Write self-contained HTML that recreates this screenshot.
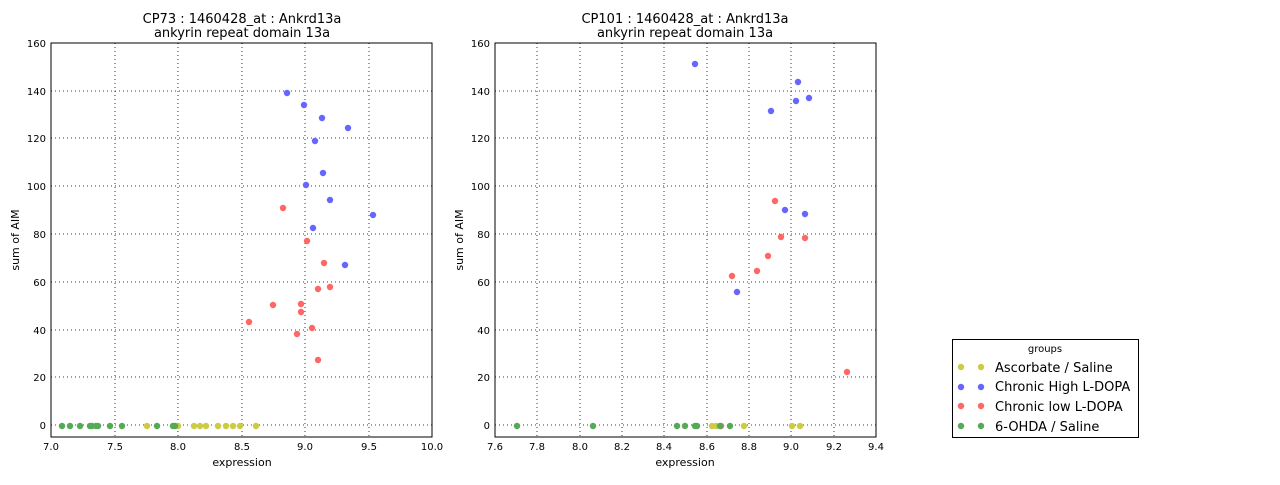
<!DOCTYPE html>
<html><head><style>
body{margin:0;background:#fff;}
svg text{font-family:"DejaVu Sans","Liberation Sans",sans-serif;fill:#000;}
</style></head><body>
<svg width="1280" height="480" xmlns="http://www.w3.org/2000/svg">
<rect width="1280" height="480" fill="#fff"/>
<!-- LEFT PLOT -->
<g font-size="10">
<g stroke="#000" stroke-dasharray="1,3" stroke-width="0.8">
<line x1="115" y1="43" x2="115" y2="437"/><line x1="178" y1="43" x2="178" y2="437"/><line x1="242" y1="43" x2="242" y2="437"/><line x1="305" y1="43" x2="305" y2="437"/><line x1="369" y1="43" x2="369" y2="437"/>
<line x1="51" y1="91" x2="432" y2="91"/><line x1="51" y1="138" x2="432" y2="138"/><line x1="51" y1="186" x2="432" y2="186"/><line x1="51" y1="234" x2="432" y2="234"/><line x1="51" y1="282" x2="432" y2="282"/><line x1="51" y1="330" x2="432" y2="330"/><line x1="51" y1="377" x2="432" y2="377"/><line x1="51" y1="425" x2="432" y2="425"/>
</g>
<g text-anchor="middle">
<text x="51" y="450">7.0</text><text x="115" y="450">7.5</text><text x="178" y="450">8.0</text><text x="242" y="450">8.5</text><text x="305" y="450">9.0</text><text x="369" y="450">9.5</text><text x="432" y="450">10.0</text>
<text x="242" y="466" font-size="11">expression</text>
<text x="242" y="23" font-size="13">CP73 : 1460428_at : Ankrd13a</text>
<text x="242" y="37" font-size="13">ankyrin repeat domain 13a</text>
</g>
<g text-anchor="end">
<text x="46" y="47">160</text><text x="46" y="95">140</text><text x="46" y="142">120</text><text x="46" y="190">100</text><text x="46" y="238">80</text><text x="46" y="286">60</text><text x="46" y="334">40</text><text x="46" y="381">20</text><text x="46" y="429">0</text>
</g>
<text transform="translate(19,240) rotate(-90)" text-anchor="middle" font-size="11">sum of AIM</text>
<g fill="#6666ff">
<circle cx="287" cy="93" r="3.2"/><circle cx="304" cy="105" r="3.2"/><circle cx="322" cy="118" r="3.2"/><circle cx="315" cy="141" r="3.2"/><circle cx="348" cy="128" r="3.2"/><circle cx="323" cy="173" r="3.2"/><circle cx="306" cy="185" r="3.2"/><circle cx="330" cy="200" r="3.2"/><circle cx="373" cy="215" r="3.2"/><circle cx="313" cy="228" r="3.2"/><circle cx="345" cy="265" r="3.2"/>
</g>
<g fill="#ff6666">
<circle cx="283" cy="208" r="3.2"/><circle cx="307" cy="241" r="3.2"/><circle cx="324" cy="263" r="3.2"/><circle cx="318" cy="289" r="3.2"/><circle cx="330" cy="287" r="3.2"/><circle cx="273" cy="305" r="3.2"/><circle cx="301" cy="304" r="3.2"/><circle cx="301" cy="312" r="3.2"/><circle cx="249" cy="322" r="3.2"/><circle cx="312" cy="328" r="3.2"/><circle cx="297" cy="334" r="3.2"/><circle cx="318" cy="360" r="3.2"/>
</g>
<g fill="#cccc44">
<circle cx="147" cy="426" r="3.2"/><circle cx="178" cy="426" r="3.2"/><circle cx="194" cy="426" r="3.2"/><circle cx="200" cy="426" r="3.2"/><circle cx="206" cy="426" r="3.2"/><circle cx="218" cy="426" r="3.2"/><circle cx="226" cy="426" r="3.2"/><circle cx="233" cy="426" r="3.2"/><circle cx="240" cy="426" r="3.2"/><circle cx="256" cy="426" r="3.2"/>
</g>
<g fill="#55aa55">
<circle cx="62" cy="426" r="3.2"/><circle cx="70" cy="426" r="3.2"/><circle cx="80" cy="426" r="3.2"/><circle cx="90" cy="426" r="3.2"/><circle cx="92" cy="426" r="3.2"/><circle cx="96" cy="426" r="3.2"/><circle cx="98" cy="426" r="3.2"/><circle cx="110" cy="426" r="3.2"/><circle cx="122" cy="426" r="3.2"/><circle cx="157" cy="426" r="3.2"/><circle cx="173" cy="426" r="3.2"/><circle cx="175" cy="426" r="3.2"/>
</g>
<rect x="51" y="43" width="381" height="394" fill="none" stroke="#000" stroke-width="1"/>
</g>
<!-- RIGHT PLOT -->
<g font-size="10">
<g stroke="#000" stroke-dasharray="1,3" stroke-width="0.8">
<line x1="537" y1="43" x2="537" y2="437"/><line x1="580" y1="43" x2="580" y2="437"/><line x1="622" y1="43" x2="622" y2="437"/><line x1="664" y1="43" x2="664" y2="437"/><line x1="707" y1="43" x2="707" y2="437"/><line x1="749" y1="43" x2="749" y2="437"/><line x1="791" y1="43" x2="791" y2="437"/><line x1="834" y1="43" x2="834" y2="437"/>
<line x1="495" y1="91" x2="876" y2="91"/><line x1="495" y1="138" x2="876" y2="138"/><line x1="495" y1="186" x2="876" y2="186"/><line x1="495" y1="234" x2="876" y2="234"/><line x1="495" y1="282" x2="876" y2="282"/><line x1="495" y1="330" x2="876" y2="330"/><line x1="495" y1="377" x2="876" y2="377"/><line x1="495" y1="425" x2="876" y2="425"/>
</g>
<g text-anchor="middle">
<text x="495" y="450">7.6</text><text x="537" y="450">7.8</text><text x="580" y="450">8.0</text><text x="622" y="450">8.2</text><text x="664" y="450">8.4</text><text x="707" y="450">8.6</text><text x="749" y="450">8.8</text><text x="791" y="450">9.0</text><text x="834" y="450">9.2</text><text x="876" y="450">9.4</text>
<text x="685" y="466" font-size="11">expression</text>
<text x="685" y="23" font-size="13">CP101 : 1460428_at : Ankrd13a</text>
<text x="685" y="37" font-size="13">ankyrin repeat domain 13a</text>
</g>
<g text-anchor="end">
<text x="490" y="47">160</text><text x="490" y="95">140</text><text x="490" y="142">120</text><text x="490" y="190">100</text><text x="490" y="238">80</text><text x="490" y="286">60</text><text x="490" y="334">40</text><text x="490" y="381">20</text><text x="490" y="429">0</text>
</g>
<text transform="translate(463,240) rotate(-90)" text-anchor="middle" font-size="11">sum of AIM</text>
<g fill="#6666ff">
<circle cx="695" cy="64" r="3.2"/><circle cx="798" cy="82" r="3.2"/><circle cx="809" cy="98" r="3.2"/><circle cx="796" cy="101" r="3.2"/><circle cx="771" cy="111" r="3.2"/><circle cx="785" cy="210" r="3.2"/><circle cx="805" cy="214" r="3.2"/><circle cx="737" cy="292" r="3.2"/>
</g>
<g fill="#ff6666">
<circle cx="775" cy="201" r="3.2"/><circle cx="781" cy="237" r="3.2"/><circle cx="805" cy="238" r="3.2"/><circle cx="768" cy="256" r="3.2"/><circle cx="757" cy="271" r="3.2"/><circle cx="732" cy="276" r="3.2"/><circle cx="847" cy="372" r="3.2"/><circle cx="721" cy="426" r="3.2"/>
</g>
<g fill="#cccc44">
<circle cx="712" cy="426" r="3.2"/><circle cx="716" cy="426" r="3.2"/><circle cx="744" cy="426" r="3.2"/><circle cx="792" cy="426" r="3.2"/><circle cx="800" cy="426" r="3.2"/>
</g>
<g fill="#55aa55">
<circle cx="517" cy="426" r="3.2"/><circle cx="593" cy="426" r="3.2"/><circle cx="677" cy="426" r="3.2"/><circle cx="685" cy="426" r="3.2"/><circle cx="695" cy="426" r="3.2"/><circle cx="697" cy="426" r="3.2"/><circle cx="720" cy="426" r="3.2"/><circle cx="730" cy="426" r="3.2"/>
</g>
<rect x="495" y="43" width="381" height="394" fill="none" stroke="#000" stroke-width="1"/>
</g>
<!-- LEGEND -->
<rect x="952.5" y="339.5" width="186" height="98" fill="#fff" stroke="#000" stroke-width="1"/>
<text x="1045" y="352" font-size="10" text-anchor="middle">groups</text>
<g font-size="13">
<circle cx="961" cy="367" r="3.2" fill="#cccc44"/><circle cx="981" cy="367" r="3.2" fill="#cccc44"/><text x="995" y="372">Ascorbate / Saline</text>
<circle cx="961" cy="387" r="3.2" fill="#6666ff"/><circle cx="981" cy="387" r="3.2" fill="#6666ff"/><text x="995" y="391">Chronic High L-DOPA</text>
<circle cx="961" cy="406" r="3.2" fill="#ff6666"/><circle cx="981" cy="406" r="3.2" fill="#ff6666"/><text x="995" y="411">Chronic low L-DOPA</text>
<circle cx="961" cy="426" r="3.2" fill="#55aa55"/><circle cx="981" cy="426" r="3.2" fill="#55aa55"/><text x="995" y="431">6-OHDA / Saline</text>
</g>
</svg>
</body></html>
